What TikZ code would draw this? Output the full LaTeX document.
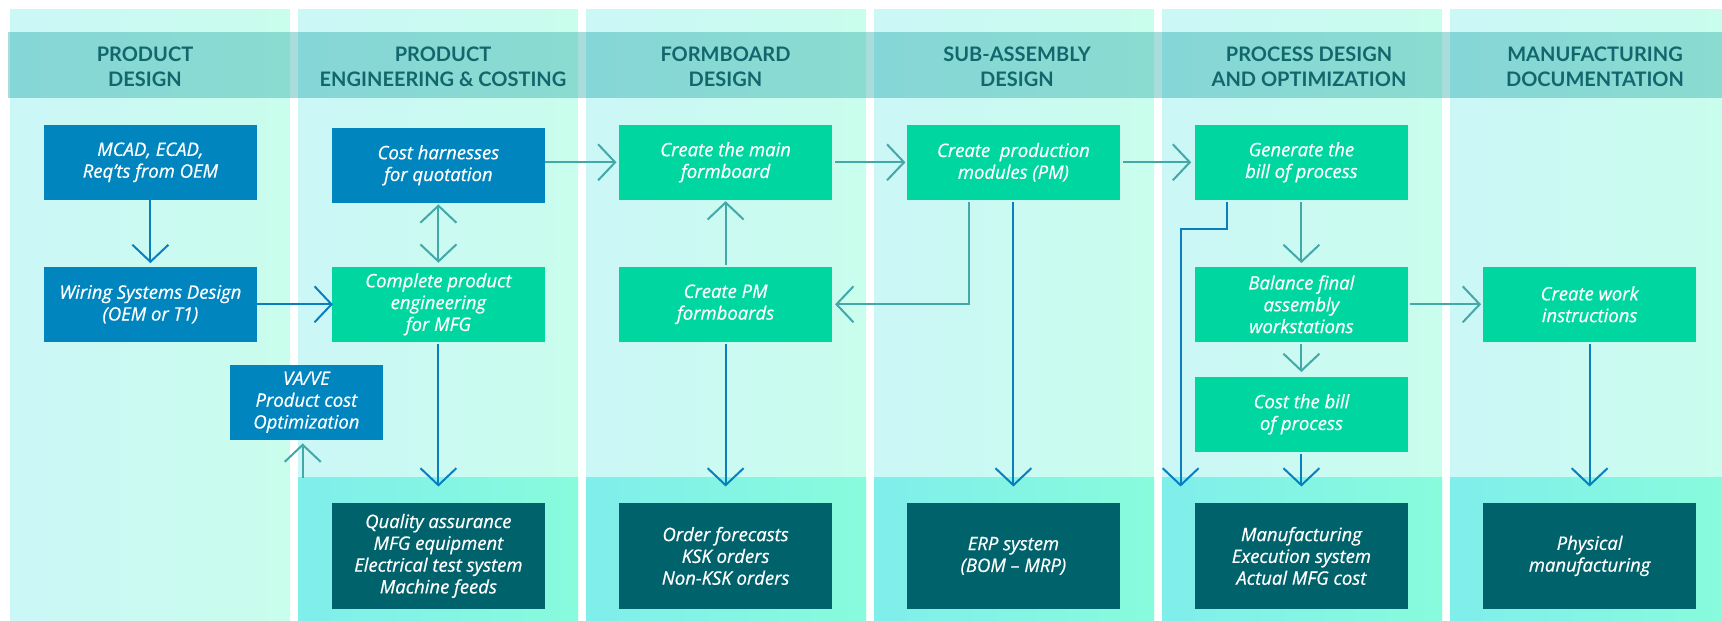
\documentclass[tikz,border=0pt]{standalone}
\usepackage{fontspec}
\setmainfont{Lato}
\newfontfamily\boxfont[ItalicFeatures={FakeBold=0.6}]{Open Sans}
\usetikzlibrary{arrows.meta}
\definecolor{colL}{HTML}{CBF7F7}
\definecolor{colR}{HTML}{C9FDEC}
\definecolor{lowL}{HTML}{80EEEA}
\definecolor{lowR}{HTML}{88FBDD}
\definecolor{bandL}{HTML}{85D6D6}
\definecolor{bandR}{HTML}{8ADCD0}
\definecolor{bandGap}{HTML}{ABDCDC}
\definecolor{headtext}{HTML}{12676D}
\definecolor{boxblue}{HTML}{0085BE}
\definecolor{boxgreen}{HTML}{00D6A0}
\definecolor{boxdark}{HTML}{00636C}
\definecolor{arrteal}{HTML}{42A9A8}
\definecolor{arrblue}{HTML}{0A7FBF}
\begin{document}
\begin{tikzpicture}[x=1pt,y=-1pt,
  box/.style={minimum width=212.6pt, minimum height=74.7pt, inner sep=0pt, align=center, text=white, font=\boxfont\itshape\fontsize{18.5}{21.8}\selectfont},
  bluebox/.style={box, fill=boxblue},
  greenbox/.style={box, fill=boxgreen},
  darkbox/.style={box, fill=boxdark, minimum height=105.7pt},
  head/.style={align=center, text=headtext, inner sep=0pt, font=\bfseries\fontsize{20}{25}\selectfont},
  tarr/.style={draw=arrteal, line width=2pt, -{Straight Barb[length=17pt,width=36pt,line width=2pt]}},
  barr/.style={draw=arrblue, line width=2pt, -{Straight Barb[length=17pt,width=36pt,line width=2pt]}},
  tdarr/.style={draw=arrteal, line width=2pt, {Straight Barb[length=17pt,width=36pt,line width=2pt]}-{Straight Barb[length=17pt,width=36pt,line width=2pt]}}
]
\useasboundingbox (0,0) rectangle (1722,621);
% columns
\foreach \i in {0,...,5}{
  \shade[left color=colL, right color=colR] ({10+288*\i},9) rectangle ({290+288*\i},621);
}
\foreach \i in {1,...,5}{
  \shade[left color=lowL, right color=lowR] ({10+288*\i},477) rectangle ({290+288*\i},621);
}
% header band
\fill[bandGap] (8,32) rectangle (1722,97.7);
\foreach \i in {0,...,5}{
  \shade[left color=bandL, right color=bandR] ({10+288*\i},32) rectangle ({290+288*\i},97.7);
}
\node[head] (h1) at (145,66.5) {PRODUCT\\DESIGN};
\node[head] (h2) at (443,66.5) {PRODUCT\\ENGINEERING \& COSTING};
\node[head] (h3) at (725.5,66.5) {FORMBOARD\\DESIGN};
\node[head] (h4) at (1017,66.5) {SUB-ASSEMBLY\\DESIGN};
\node[head] (h5) at (1309,66.5) {PROCESS DESIGN\\AND OPTIMIZATION};
\node[head] (h6) at (1595,66.5) {MANUFACTURING\\DOCUMENTATION};
% boxes
\node[bluebox] (mcad) at (150.4,162.3) {MCAD, ECAD,\\Req’ts from OEM};
\node[bluebox] (wiring) at (150.4,304.3) {Wiring Systems Design\\(OEM or T1)};
\node[bluebox] (cost) at (438.4,165.3) {Cost harnesses\\for quotation};
\node[greenbox] (complete) at (438.4,304.3) {Complete product\\engineering\\for MFG};
\node[bluebox, minimum width=152.7pt] (vave) at (306.4,402.3) {VA/VE\\Product cost\\Optimization};
\node[darkbox] (quality) at (438.4,555.9) {Quality assurance\\MFG equipment\\Electrical test system\\Machine feeds};
\node[greenbox] (main) at (725.6,162.3) {Create the main\\formboard};
\node[greenbox] (pmf) at (725.6,304.3) {Create PM\\formboards};
\node[darkbox] (order) at (725.6,555.9) {Order forecasts\\KSK orders\\Non-KSK orders};
\node[greenbox] (prod) at (1013.4,162.3) {Create\ \ production\\modules (PM)};
\node[darkbox] (erp) at (1013.4,555.9) {ERP system\\(BOM – MRP)};
\node[greenbox] (gen) at (1301.4,162.3) {Generate the\\bill of process};
\node[greenbox] (bal) at (1301.4,304.3) {Balance final\\assembly\\workstations};
\node[greenbox] (costbill) at (1301.4,414.3) {Cost the bill\\of process};
\node[darkbox] (mes) at (1301.4,555.9) {Manufacturing\\Execution system\\Actual MFG cost};
\node[greenbox] (work) at (1589.6,304.3) {Create work\\instructions};
\node[darkbox] (phys) at (1589.6,555.9) {Physical\\manufacturing};
\coordinate (vavein) at (302.7,477.7);
% connectors
\draw[barr, shorten >=3.6pt] (mcad) -- (wiring);
\draw[barr, shorten >=-1pt] (wiring.east) -- (complete.west);
\draw[tdarr, shorten <=1.5pt, shorten >=4pt] (cost.south) -- (complete.north);
\draw[tarr, shorten >=2.6pt] (cost.east |- main.west) -- (main.west);
\draw[tarr, shorten <=3pt, shorten >=1.5pt] (main.east) -- (prod.west);
\draw[tarr, shorten <=3pt, shorten >=3.7pt] (prod.east) -- (gen.west);
\draw[tarr, shorten <=2pt, shorten >=1.3pt] (pmf.north) -- (main.south);
\draw[tarr, shorten <=2.6pt, shorten >=3pt] ([xshift=-44.6pt]prod.south) |- (pmf.east);
\draw[barr, shorten <=2.6pt, shorten >=16.3pt] (prod.south) -- (erp.north);
\draw[barr, shorten <=2.6pt, shorten >=16.3pt] (complete.south) -- (quality.north);
\draw[barr, shorten <=2.6pt, shorten >=16.3pt] (pmf.south) -- (order.north);
\draw[tarr, shorten <=2.6pt, shorten >=3.7pt] (gen.south) -- (bal.north);
\draw[tarr, shorten <=2.6pt, shorten >=4.7pt] (bal.south) -- (costbill.north);
\draw[barr, shorten <=2.3pt, shorten >=16.3pt] (costbill.south) -- (mes.north);
\draw[barr, shorten <=2.6pt, shorten >=16.3pt] (work.south) -- (phys.north);
\draw[barr, shorten <=2.6pt, shorten >=16.3pt] ([xshift=-74.4pt]gen.south) -- ++(0,29) -| ([xshift=-120.8pt]mes.north);
\draw[tarr, shorten <=2pt, shorten >=2pt] (bal.east) -- (work.west);
\draw[tarr, shorten >=3.6pt] (vavein) -- (vavein |- vave.south);
\end{tikzpicture}
\end{document}
